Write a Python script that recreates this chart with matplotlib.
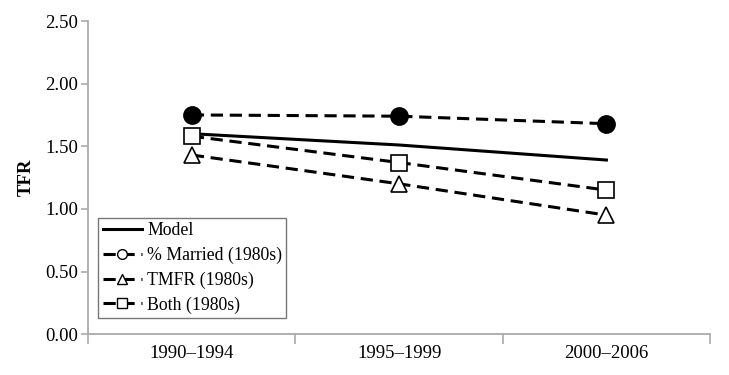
import matplotlib
matplotlib.use("Agg")
import matplotlib.pyplot as plt
from matplotlib.lines import Line2D

plt.rcParams['font.family'] = ['Liberation Serif', 'DejaVu Serif']

categories = ["1990\u20131994", "1995\u20131999", "2000\u20132006"]
model = [1.60, 1.51, 1.39]
married = [1.75, 1.74, 1.68]
tmfr = [1.43, 1.20, 0.95]
both = [1.58, 1.37, 1.15]

fig = plt.figure(figsize=(7.29, 3.75), dpi=100)
ax = fig.add_axes([0.121, 0.109, 0.853, 0.835])

x = list(range(len(categories)))
dash = (0, (4, 2.2))
lw = 2.2
fs = 13.5
ax.plot(x, model, color='black', lw=lw, zorder=3)
ax.plot(x, married, color='black', lw=lw, ls=dash, marker='o', ms=12.5,
        mfc='black', mec='black', zorder=3)
ax.plot(x, tmfr, color='black', lw=lw, ls=dash, marker='^', ms=11,
        mfc='white', mec='black', mew=1.2, zorder=3)
ax.plot(x, both, color='black', lw=lw, ls=dash, marker='s', ms=11,
        mfc='white', mec='black', mew=1.2, zorder=3)

ax.set_xlim(-0.5, 2.5)
ax.set_ylim(0, 2.5)
ax.set_yticks([0, 0.5, 1.0, 1.5, 2.0, 2.5])
ax.set_yticklabels([f"{v:.2f}" for v in [0, 0.5, 1.0, 1.5, 2.0, 2.5]])
ax.set_xticks(x)
ax.set_xticklabels(categories)
ax.set_xticks([-0.5, 0.5, 1.5, 2.5], minor=True)
ax.tick_params(axis='x', which='major', length=0, labelsize=fs, pad=8)
ax.tick_params(axis='x', which='minor', length=7, color='#aaaaaa', width=1.2)
ax.tick_params(axis='y', length=5, color='#aaaaaa', width=1.2, labelsize=fs, pad=2)
for s in ['top', 'right']:
    ax.spines[s].set_visible(False)
for s in ['left', 'bottom']:
    ax.spines[s].set_color('#aaaaaa')
    ax.spines[s].set_linewidth(1.3)
ax.set_ylabel("TFR", fontsize=fs, fontweight='bold', labelpad=8)

handles = [
    Line2D([], [], color='black', lw=lw),
    Line2D([], [], color='black', lw=lw, ls=dash, marker='o', ms=7, mfc='white', mec='black'),
    Line2D([], [], color='black', lw=lw, ls=dash, marker='^', ms=7, mfc='white', mec='black'),
    Line2D([], [], color='black', lw=lw, ls=dash, marker='s', ms=7, mfc='white', mec='black'),
]
labels = ["Model", "% Married (1980s)", "TMFR (1980s)", "Both (1980s)"]
leg = ax.legend(handles, labels, loc='lower left', bbox_to_anchor=(0.016, 0.051),
                fontsize=12.8, frameon=True, fancybox=False, handlelength=2.2,
                handletextpad=0.3, labelspacing=0.42, borderpad=0.25, borderaxespad=0.0)
leg.get_frame().set_edgecolor('#555555')
leg.get_frame().set_linewidth(1.0)

fig.savefig("out.png", dpi=100)
